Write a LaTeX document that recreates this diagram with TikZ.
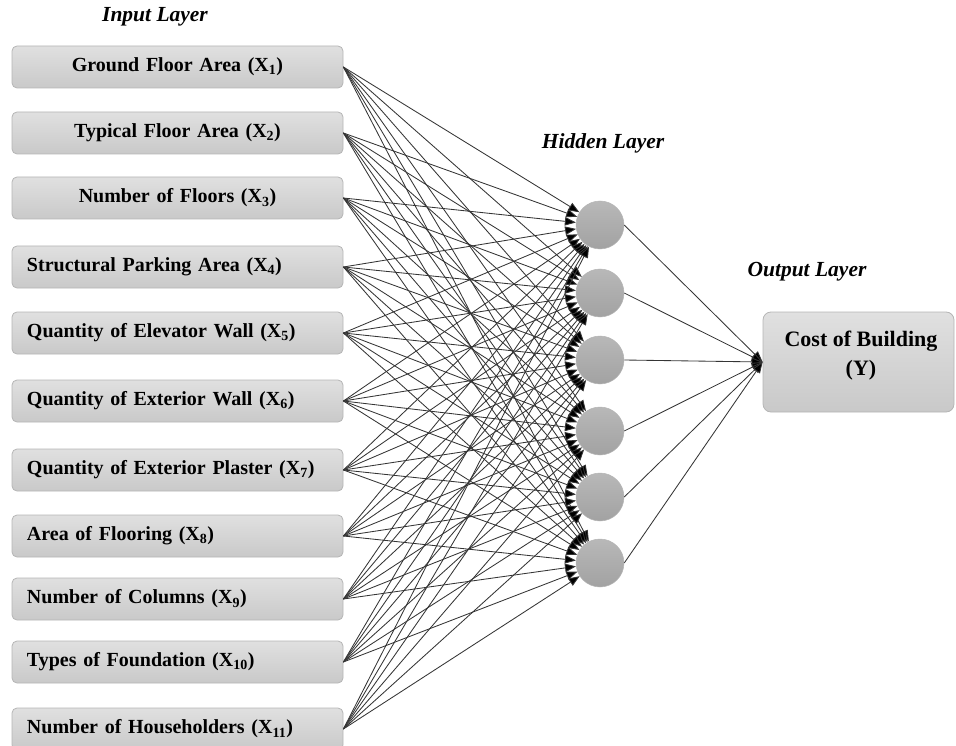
\documentclass[tikz,border=0pt]{standalone}
\usepackage{fontspec}
\setmainfont{Liberation Serif}
\usetikzlibrary{arrows.meta}
\definecolor{boxtop}{HTML}{E0E0E0}
\definecolor{boxbot}{HTML}{C9C9C9}
\definecolor{boxline}{HTML}{B5B5B5}
\definecolor{circtop}{HTML}{B8B8B8}
\definecolor{circbot}{HTML}{A2A2A2}
\definecolor{connline}{HTML}{353535}
\tikzset{
  inbox/.style={draw=boxline, line width=0.8pt, rounded corners=5pt,
    top color=boxtop, bottom color=boxbot,
    minimum width=331pt, minimum height=42pt, inner xsep=15pt, inner ysep=0pt,
    text width=301pt, font=\fontsize{20}{24}\selectfont\bfseries},
  inleft/.style={inbox, align=left},
  incenter/.style={inbox, align=center},
  hid/.style={circle, draw=circbot!80!white, line width=0.5pt,
    top color=circtop, bottom color=circbot, minimum size=48pt, inner sep=0pt},
  outbox/.style={draw=boxline, line width=0.8pt, rounded corners=8pt,
    top color=boxtop, bottom color=boxbot,
    minimum width=191pt, minimum height=100pt},
  outtext/.style={align=center, font=\fontsize{22}{29}\selectfont\bfseries},
  layerlabel/.style={font=\fontsize{21.5}{25}\selectfont\bfseries\itshape},
  conn/.style={draw=connline, line width=0.85pt,
    -{Triangle[length=11pt,width=8.5pt,fill=black]}},
}
\begin{document}
\begin{tikzpicture}[x=1pt,y=-1pt]
\useasboundingbox (0,0) rectangle (956,746);
% layer labels
\node[layerlabel] (lin) at (155,17) {Input Layer};
\node[layerlabel] (lhid) at (603,143) {Hidden Layer};
\node[layerlabel] (lout) at (807,272) {Output Layer};
% input boxes
\node[incenter] (i1) at (177.5,67) {Ground Floor Area (X\textsubscript{1})};
\node[incenter] (i2) at (177.5,133) {Typical Floor Area (X\textsubscript{2})};
\node[incenter] (i3) at (177.5,198) {Number of Floors (X\textsubscript{3})};
\node[inleft] (i4) at (177.5,267) {Structural Parking Area (X\textsubscript{4})};
\node[inleft] (i5) at (177.5,333) {Quantity of Elevator Wall (X\textsubscript{5})};
\node[inleft] (i6) at (177.5,401) {Quantity of Exterior Wall (X\textsubscript{6})};
\node[inleft] (i7) at (177.5,470) {Quantity of Exterior Plaster (X\textsubscript{7})};
\node[inleft] (i8) at (177.5,536) {Area of Flooring (X\textsubscript{8})};
\node[inleft] (i9) at (177.5,599) {Number of Columns (X\textsubscript{9})};
\node[inleft] (i10) at (177.5,662) {Types of Foundation (X\textsubscript{10})};
\node[inleft] (i11) at (177.5,729) {Number of Householders (X\textsubscript{11})};
% hidden nodes
\node[hid] (h1) at (600,225) {};
\node[hid] (h2) at (600,293) {};
\node[hid] (h3) at (600,360) {};
\node[hid] (h4) at (600,431) {};
\node[hid] (h5) at (600,497) {};
\node[hid] (h6) at (600,563) {};
% output
\node[outbox] (o) at (858.5,362) {};
\node[outtext] (ot) at (861,356) {Cost of Building\\(Y)};
% connections
\foreach \i in {1,...,11}{
  \foreach \j in {1,...,6}{
    \draw[conn] (i\i.east) -- (h\j);
  }
}
\foreach \j in {1,...,6}{
  \draw[conn] (h\j.east) -- (o.west);
}
\end{tikzpicture}
\end{document}
